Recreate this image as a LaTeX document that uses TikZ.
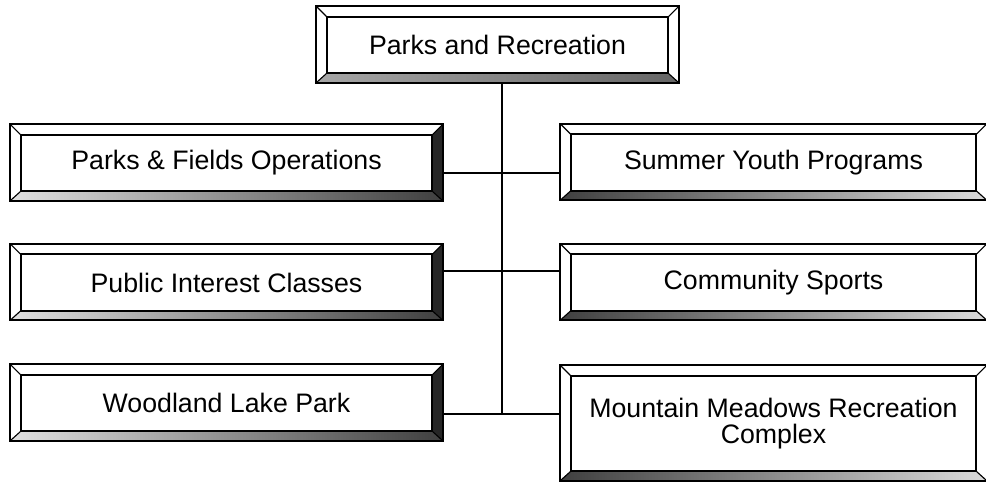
\documentclass[tikz,border=0pt]{standalone}
\usepackage{fontspec}
\setmainfont{Liberation Sans}
\usetikzlibrary{calc}

\begin{document}
\begin{tikzpicture}[x=0.025cm,y=-0.025cm,font=\fontsize{19}{18.5}\selectfont]
    \tikzstyle{unit}=[draw,line width=0.9pt,fill=white,inner sep=0,align=center,minimum height=1.4cm]
    \tikzstyle{left unit}=[unit,minimum width=10.275cm]
    \tikzstyle{right unit}=[unit,minimum width=10.125cm]
    \tikzstyle{link}=[line width=1.1pt]

    \useasboundingbox (0,0) rectangle (986,482);

    \node(pr)[unit,minimum width=8.525cm] at (497.5,45) {Parks and Recreation};

    \node(pf)[left unit] at (226.5,163) {Parks \& Fields Operations};
    \node(pic)[left unit] at (226.5,282.5) {Public Interest Classes};
    \node(wlp)[left unit] at (226.5,403) {Woodland Lake Park};

    \node(syp)[right unit] at (773.5,162.5) {Summer Youth Programs};
    \node(cs)[right unit] at (773.5,282.5) {Community Sports};
    \node(mmr)[right unit,minimum height=2.375cm] at (773.5,423.5) {Mountain Meadows Recreation\\Complex};

    % trunk and branches
    \coordinate(j1) at (502,173);
    \coordinate(j2) at (502,271);
    \coordinate(j3) at (502,414);
    \draw[link] (pr.south -| j1) -- (j3);
    \draw[link] (pf.east |- j1) -- (syp.west |- j1);
    \draw[link] (pic.east |- j2) -- (cs.west |- j2);
    \draw[link] (wlp.east |- j3) -- (mmr.west |- j3);

    % bevelled frames
    \foreach \n/\rc/\lc/\dc in {pr/white/gray!70/black!60,
                               pf/black!85/gray!25/black!75,
                               pic/black!85/gray!25/black!75,
                               wlp/black!85/gray!25/black!75,
                               syp/white/black!75/gray!30,
                               cs/white/black!75/gray!30,
                               mmr/white/black!75/gray!30}{
        \fill[white,even odd rule] ($(\n.north west)+(-10,-10)$) rectangle ($(\n.south east)+(10,9)$)
            (\n.north west) rectangle (\n.south east);
        \fill[\rc] (\n.north east) -- (\n.south east) -- ++(10,9) -- ($(\n.north east)+(10,-10)$) -- cycle;
        \shade[left color=\lc,right color=\dc] (\n.south west) -- (\n.south east) -- ++(10,9)
            -- ($(\n.south west)+(-10,9)$) -- cycle;
        \draw[line width=0.9pt] (\n.north west) rectangle (\n.south east);
        \draw[line width=0.8pt] (\n.north west) -- ++(-10,-10) (\n.north east) -- ++(10,-10)
            (\n.south east) -- ++(10,9) (\n.south west) -- ++(-10,9);
        \draw[line width=1.4pt] ($(\n.north west)+(-10,-10)$) rectangle ($(\n.south east)+(10,9)$);
    }
\end{tikzpicture}
\end{document}
